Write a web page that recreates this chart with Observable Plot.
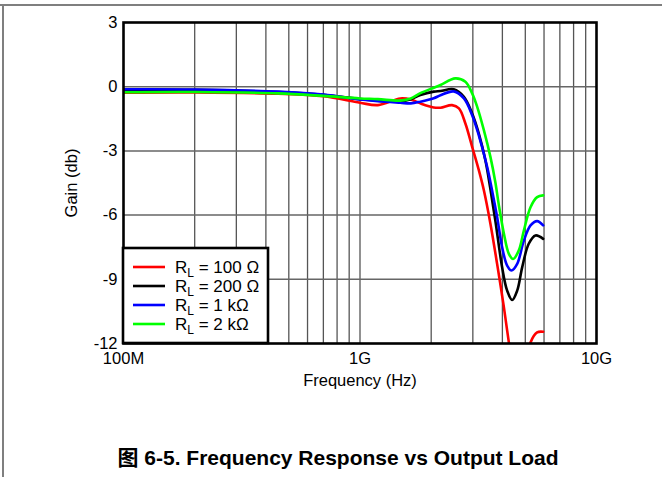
<!DOCTYPE html>
<html>
<head>
<meta charset="utf-8">
<script src="https://cdn.jsdelivr.net/npm/d3@7"></script>
<script src="https://cdn.jsdelivr.net/npm/@observablehq/plot@0.6"></script>
<style>
  html, body { margin: 0; padding: 0; background: #fff; }
  #page { position: relative; width: 662px; height: 477px; overflow: hidden;
          font-family: "Liberation Sans", Arial, "Noto Sans CJK SC", sans-serif; }
  #rule-top { position: absolute; left: 0; top: 4px; width: 662px; height: 2px; background: #7f7f7f; }
  #rule-left { position: absolute; left: 2px; top: 4px; width: 2px; height: 473px; background: #7f7f7f; }
  #chart { position: absolute; left: 0; top: 0; }
  #caption { position: absolute; left: 7px; width: 662px; top: 445px; text-align: center;
             font-weight: bold; font-size: 21px; line-height: 26px; color: #000; }
</style>
</head>
<body>
<div id="page">
  <div id="rule-top"></div>
  <div id="rule-left"></div>
  <div id="chart"></div>
  <div id="caption">图 6-5. Frequency Response vs Output Load</div>
</div>
<script>
// Load resistance values shown in the legend, with their line colours
const loadLabels = ["100 Ω", "200 Ω", "1 kΩ", "2 kΩ"];
const loadColors = ["#ff0000", "#000000", "#0000ff", "#00ff00"];

// Frequency (GHz) and gain (dB) for each load
const freq100 = [0.10, 0.20, 0.45, 0.70, 1.00, 1.19, 1.48, 1.64, 1.80, 2.05, 2.19, 2.45, 2.62, 2.79, 2.98, 3.18, 3.34, 3.56, 3.80, 4.06, 4.26, 4.50, 4.75, 5.00, 5.26, 5.61, 5.95];
const gain100 = [-0.28, -0.27, -0.33, -0.45, -0.75, -0.86, -0.55, -0.60, -0.78, -0.97, -0.98, -0.86, -1.01, -1.72, -2.81, -3.90, -4.84, -6.40, -8.28, -10.31, -11.95, -13.6, -14.0, -13.2, -11.95, -11.48, -11.45];

const freq200 = [0.10, 0.20, 0.45, 0.70, 1.00, 1.19, 1.48, 1.64, 1.80, 2.05, 2.19, 2.49, 2.75, 2.98, 3.18, 3.39, 3.55, 3.74, 3.99, 4.19, 4.40, 4.62, 4.85, 5.17, 5.52, 5.95];
const gain200 = [-0.14, -0.15, -0.25, -0.38, -0.58, -0.65, -0.70, -0.59, -0.39, -0.23, -0.20, -0.12, -0.47, -1.25, -2.19, -3.44, -4.70, -6.30, -8.44, -9.53, -9.97, -9.53, -8.44, -7.34, -6.95, -7.11];

const freq1k = [0.10, 0.20, 0.45, 0.70, 1.00, 1.19, 1.48, 1.64, 1.80, 2.05, 2.19, 2.49, 2.75, 2.98, 3.18, 3.45, 3.64, 3.80, 3.99, 4.19, 4.37, 4.62, 4.93, 5.26, 5.61, 5.95];
const gain1k = [-0.12, -0.13, -0.23, -0.37, -0.60, -0.68, -0.75, -0.78, -0.70, -0.54, -0.40, -0.22, -0.55, -1.33, -2.27, -3.75, -5.00, -6.09, -7.50, -8.36, -8.59, -8.28, -7.19, -6.48, -6.28, -6.48];

const freq2k = [0.10, 0.20, 0.45, 0.70, 1.00, 1.19, 1.48, 1.64, 1.80, 2.05, 2.19, 2.53, 2.79, 2.98, 3.13, 3.34, 3.56, 3.74, 3.86, 4.06, 4.26, 4.44, 4.69, 4.93, 5.26, 5.61, 5.95];
const gain2k = [-0.26, -0.25, -0.31, -0.43, -0.55, -0.58, -0.65, -0.55, -0.30, -0.05, 0.08, 0.39, 0.23, -0.31, -0.94, -2.03, -3.28, -4.50, -5.50, -6.87, -7.81, -8.05, -7.66, -6.72, -5.63, -5.16, -5.08];

// Axis ticks and grid positions
const xTickValues = [0.1, 1, 10];
const xTickLabels = ["100M", "1G", "10G"];
const yTickValues = [3, 0, -3, -6, -9, -12];
const xGrid = [0.2, 0.3, 0.4, 0.5, 0.6, 0.7, 0.8, 0.9, 1, 2, 3, 4, 5, 6, 7, 8, 9];
const yGrid = [0, -3, -6, -9];

const seriesFreq = [freq100, freq200, freq1k, freq2k];
const seriesGain = [gain100, gain200, gain1k, gain2k];

const rows = [];
loadLabels.forEach((name, k) => {
  seriesFreq[k].forEach((f, i) => rows.push({load: name, f, gain: seriesGain[k][i]}));
});

const font = '"Liberation Sans", Arial, sans-serif';

const chart = Plot.plot({
  width: 662,
  height: 395,
  marginLeft: 123,
  marginRight: 66,
  marginTop: 22,
  marginBottom: 52,
  style: {fontFamily: font, fontSize: "16.5px", color: "#000", background: "transparent"},
  x: {
    type: "log",
    domain: [0.1, 10],
    ticks: xTickValues,
    tickFormat: d => xTickLabels[xTickValues.indexOf(d)] ?? "",
    tickSize: 0,
    tickPadding: 9,
    label: "Frequency (Hz)",
    labelArrow: false,
    labelAnchor: "center",
    labelOffset: 42
  },
  y: {
    domain: [-12, 3],
    ticks: yTickValues,
    tickFormat: d => String(d),
    tickSize: 0,
    tickPadding: 6,
    label: "Gain (db)",
    labelArrow: false,
    labelAnchor: "center",
    labelOffset: 58
  },
  color: {domain: loadLabels, range: loadColors},
  marks: [
    Plot.ruleX(xGrid, {stroke: "#555", strokeWidth: 1.3}),
    Plot.ruleY(yGrid, {stroke: "#666", strokeWidth: 1.5}),
    Plot.line(rows, {x: "f", y: "gain", z: "load", stroke: "load", strokeWidth: 2.6, curve: "catmull-rom", clip: true}),
    Plot.frame({stroke: "#000", strokeWidth: 2.6})
  ]
});

document.getElementById("chart").appendChild(chart);

// Legend box in the lower-left corner of the plot frame
const svg = d3.select(chart);
const left = 123, bottom = 343;
const box = {x: left, y: bottom - 95, w: 145, h: 95};
const legend = svg.append("g")
  .attr("font-family", font)
  .attr("font-size", 17)
  .attr("text-anchor", "start");
legend.append("rect")
  .attr("x", box.x).attr("y", box.y).attr("width", box.w).attr("height", box.h)
  .attr("fill", "#fff").attr("stroke", "#000").attr("stroke-width", 2.6);
loadLabels.forEach((name, i) => {
  const cy = box.y + 19 + 19 * i;
  legend.append("line")
    .attr("x1", box.x + 10).attr("x2", box.x + 42)
    .attr("y1", cy).attr("y2", cy)
    .attr("stroke", loadColors[i]).attr("stroke-width", 2.6);
  const t = legend.append("text")
    .attr("x", box.x + 52).attr("y", cy + 6)
    .attr("fill", "#000").attr("text-anchor", "start");
  t.append("tspan").text("R");
  t.append("tspan").attr("font-size", 12).attr("dy", 4).text("L");
  t.append("tspan").attr("dy", -4).text(" = " + name);
});
</script>
</body>
</html>
